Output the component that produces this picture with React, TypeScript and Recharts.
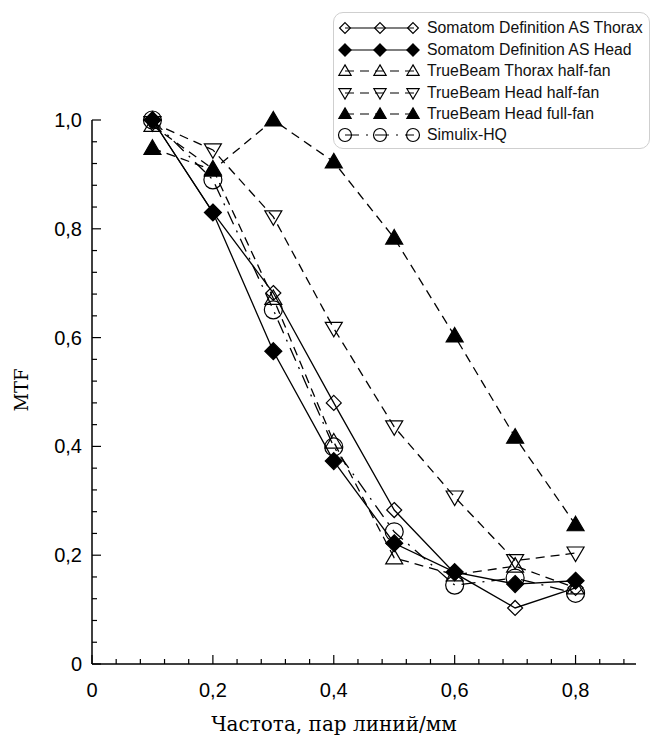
import React from "react";
import { LineChart, Line, XAxis, YAxis, Legend } from "recharts";

const frequencies = [0.1, 0.2, 0.3, 0.4, 0.5, 0.6, 0.7, 0.8];
const somatomThorax = [1.0, 0.83, 0.682, 0.48, 0.283, 0.167, 0.103, 0.14];
const somatomHead = [1.0, 0.83, 0.575, 0.373, 0.222, 0.169, 0.147, 0.153];
const trueBeamThoraxHalf = [0.99, 0.91, 0.672, 0.408, 0.195, 0.164, 0.18, 0.14];
const trueBeamHeadHalf = [0.995, 0.945, 0.822, 0.617, 0.436, 0.307, 0.19, 0.204];
const trueBeamHeadFull = [0.948, 0.908, 1.0, 0.923, 0.783, 0.603, 0.417, 0.256];
const simulixHQ = [1.0, 0.89, 0.651, 0.399, 0.243, 0.145, 0.158, 0.13];

const xTicks = [0, 0.04, 0.08, 0.12, 0.16, 0.2, 0.24, 0.28, 0.32, 0.36, 0.4, 0.44, 0.48, 0.52, 0.56, 0.6, 0.64, 0.68, 0.72, 0.76, 0.8, 0.84, 0.88];
const xMajorLabels: Record<string, string> = { "0": "0", "0.2": "0,2", "0.4": "0,4", "0.6": "0,6", "0.8": "0,8" };
const yTicks = [0, 0.04, 0.08, 0.12, 0.16, 0.2, 0.24, 0.28, 0.32, 0.36, 0.4, 0.44, 0.48, 0.52, 0.56, 0.6, 0.64, 0.68, 0.72, 0.76, 0.8, 0.84, 0.88, 0.92, 0.96, 1.0];
const yMajorLabels: Record<string, string> = { "0": "0", "0.2": "0,2", "0.4": "0,4", "0.6": "0,6", "0.8": "0,8", "1": "1,0" };

const xTitle = "Частота, пар линий/мм";
const yTitle = "MTF";

type SeriesDef = { key: string; name: string; values: number[]; shape: string; filled: boolean; dash?: string };
const series: SeriesDef[] = [
  { key: "st", name: "Somatom Definition AS Thorax", values: somatomThorax, shape: "diamond", filled: false },
  { key: "sh", name: "Somatom Definition AS Head", values: somatomHead, shape: "diamond", filled: true },
  { key: "tth", name: "TrueBeam Thorax half-fan", values: trueBeamThoraxHalf, shape: "triUp", filled: false, dash: "9 6" },
  { key: "thh", name: "TrueBeam Head half-fan", values: trueBeamHeadHalf, shape: "triDown", filled: false, dash: "9 6" },
  { key: "thf", name: "TrueBeam Head full-fan", values: trueBeamHeadFull, shape: "triUp", filled: true, dash: "9 6" },
  { key: "sim", name: "Simulix-HQ", values: simulixHQ, shape: "circle", filled: false, dash: "14 7 2 7" },
];

const data = frequencies.map((f, i) => {
  const row: Record<string, number> = { x: f };
  series.forEach((s) => {
    row[s.key] = s.values[i];
  });
  return row;
});

const FONT_SANS = "'Liberation Sans', Arial, Helvetica, sans-serif";
const FONT_SERIF = "'DejaVu Serif', 'Liberation Serif', serif";

function Marker({ cx, cy, shape, filled, scale = 1 }: { cx: number; cy: number; shape: string; filled: boolean; scale?: number }) {
  const fill = filled ? "#000" : "none";
  const sw = 1.2;
  if (shape === "diamond") {
    const s = (filled ? 8.5 : 7.5) * scale;
    return <polygon points={`${cx},${cy - s} ${cx + s},${cy} ${cx},${cy + s} ${cx - s},${cy}`} fill={fill} stroke="#000" strokeWidth={sw} />;
  }
  if (shape === "triUp") {
    const w = 8.5 * scale;
    const t = 8.5 * scale;
    const b = 6 * scale;
    return <polygon points={`${cx},${cy - t} ${cx + w},${cy + b} ${cx - w},${cy + b}`} fill={fill} stroke="#000" strokeWidth={sw} />;
  }
  if (shape === "triDown") {
    const w = 8.5 * scale;
    const t = 8.5 * scale;
    const b = 6 * scale;
    return <polygon points={`${cx - w},${cy - b} ${cx + w},${cy - b} ${cx},${cy + t}`} fill={fill} stroke="#000" strokeWidth={sw} />;
  }
  return <circle cx={cx} cy={cy} r={9 * scale} fill={fill} stroke="#000" strokeWidth={sw} />;
}

const makeDot = (s: SeriesDef) => (props: any) => {
  const { cx, cy, index } = props;
  if (cx == null || cy == null) return <g key={`${s.key}-${index}`} />;
  return <Marker key={`${s.key}-${index}`} cx={cx} cy={cy} shape={s.shape} filled={s.filled} />;
};

const XTick = (props: any) => {
  const { x, y, payload } = props;
  const label = xMajorLabels[String(payload.value)];
  const major = label !== undefined;
  return (
    <g>
      <line x1={x} y1={y} x2={x} y2={y - (major ? 9 : 5)} stroke="#000" strokeWidth={1.2} />
      {major && (
        <text x={x} y={y + 33} textAnchor="middle" fontFamily={FONT_SANS} fontSize={20} fill="#000">
          {label}
        </text>
      )}
    </g>
  );
};

const YTick = (props: any) => {
  const { x, y, payload } = props;
  const label = yMajorLabels[String(payload.value)];
  const major = label !== undefined;
  return (
    <g>
      <line x1={x} y1={y} x2={x + (major ? 9 : 5)} y2={y} stroke="#000" strokeWidth={1.2} />
      {major && (
        <text x={x - 10} y={y + 7} textAnchor="end" fontFamily={FONT_SANS} fontSize={20} fill="#000">
          {label}
        </text>
      )}
    </g>
  );
};

const renderLegend = () => {
  const rowCenters = [15, 37, 58, 80, 101, 122];
  return (
    <div
      style={{
        position: "relative",
        width: 317,
        height: 137,
        boxSizing: "border-box",
        border: "1px solid #cfcfcf",
        borderRadius: 10,
        background: "#fff",
      }}
    >
      {series.map((s, i) => (
        <div key={s.key} style={{ position: "absolute", left: 0, top: rowCenters[i] - 11, height: 22, width: 316 }}>
          <svg width={94} height={22} style={{ position: "absolute", left: 0, top: 0 }}>
            <line x1={11} y1={11} x2={80} y2={11} stroke="#000" strokeWidth={1.2} strokeDasharray={s.dash} />
            {[11, 46, 79].map((mx) => (
              <Marker key={mx} cx={mx} cy={11} shape={s.shape} filled={s.filled} scale={0.72} />
            ))}
          </svg>
          <span
            style={{
              position: "absolute",
              left: 93,
              top: 0,
              lineHeight: "22px",
              fontFamily: FONT_SANS,
              fontSize: 15.8,
              color: "#111",
              whiteSpace: "nowrap",
            }}
          >
            {s.name}
          </span>
        </div>
      ))}
    </div>
  );
};

export default function App() {
  return (
    <div style={{ position: "absolute", left: 0, top: 0, width: 652, height: 736, background: "#fff" }}>
      <LineChart width={652} height={736} data={data} margin={{ top: 120, right: 16, bottom: 0, left: 0 }}>
        <XAxis
          dataKey="x"
          type="number"
          domain={[0, 0.9]}
          ticks={xTicks}
          interval={0}
          tick={XTick}
          tickLine={false}
          tickSize={0}
          tickMargin={0}
          height={72}
          axisLine={{ stroke: "#000", strokeWidth: 1.5 }}
          label={{
            content: () => (
              <text x={334} y={731} textAnchor="middle" fontFamily={FONT_SERIF} fontSize={20} fill="#000">
                {xTitle}
              </text>
            ),
          }}
        />
        <YAxis
          type="number"
          domain={[0, 1]}
          ticks={yTicks}
          interval={0}
          tick={YTick}
          tickLine={false}
          tickSize={0}
          tickMargin={0}
          width={92}
          axisLine={{ stroke: "#000", strokeWidth: 1.5 }}
          label={{
            content: () => (
              <text x={0} y={0} transform="translate(28,390) rotate(-90)" textAnchor="middle" fontFamily={FONT_SERIF} fontSize={18} fill="#000">
                {yTitle}
              </text>
            ),
          }}
        />
        <Legend
          content={renderLegend}
          layout="horizontal"
          verticalAlign="middle"
          align="center"
          wrapperStyle={{ left: 333, top: 12, width: 317, height: 137 }}
        />
        {series.map((s) => (
          <Line
            key={s.key}
            dataKey={s.key}
            name={s.name}
            type="linear"
            stroke="#000"
            strokeWidth={1.3}
            strokeDasharray={s.dash}
            dot={makeDot(s)}
            activeDot={false}
            isAnimationActive={false}
          />
        ))}
      </LineChart>
    </div>
  );
}
